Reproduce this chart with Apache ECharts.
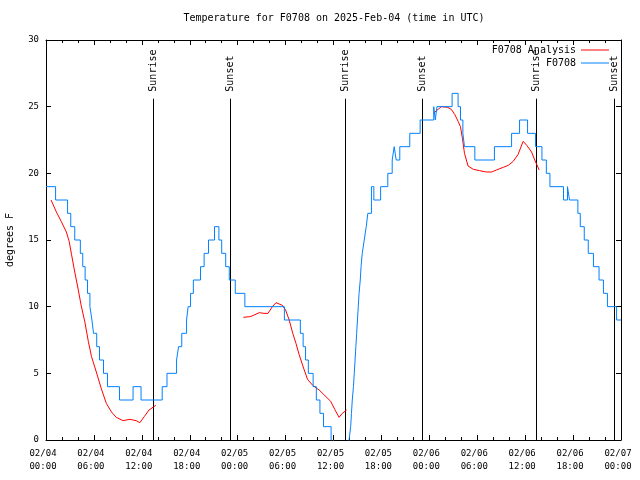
<!DOCTYPE html>
<html><head><meta charset="utf-8">
<script src="https://cdn.jsdelivr.net/npm/echarts@6/dist/echarts.min.js"></script>
<style>html,body{margin:0;padding:0;background:#fff}#c{width:640px;height:480px}</style>
</head><body><div id="c"></div>
<script>
// Tick labels for the time axis (hours since 2025-02-04 00:00 UTC, every 6 h)
const xTickLabels = ['02/04\n00:00','02/04\n06:00','02/04\n12:00','02/04\n18:00',
  '02/05\n00:00','02/05\n06:00','02/05\n12:00','02/05\n18:00',
  '02/06\n00:00','02/06\n06:00','02/06\n12:00','02/06\n18:00','02/07\n00:00'];

// Observed F0708 temperature (deg F): level starts at given hour
const blueHours = [0,1.2,2.7,3.1,3.6,4.3,4.6,4.9,5.2,5.5,5.75,5.95,6.35,6.7,7.2,7.7,9.2,10.9,11.9,
  14.55,15.15,16.35,16.6,17.0,17.6,17.8,18.1,18.45,19.35,19.8,20.35,21.1,21.65,22.0,22.5,22.95,23.7,24.9,
  29.85,31.85,32.2,32.5,32.85,33.45,33.85,34.3,34.75,35.7,35.9,36.2,37.6,37.95,
  38.15,38.25,38.35,38.5,38.6,38.7,38.8,38.9,39.0,39.1,39.2,39.35,39.45,39.6,39.85,40.1,40.3,40.75,41.05,
  41.9,42.8,43.35,43.6,43.85,44.3,45.55,46.85,48.55,48.75,48.95,50.85,51.6,51.9,52.2,52.4,53.7,56.15,
  58.3,59.3,60.3,61.3,62.1,62.65,63.1,64.8,65.3,65.55,66.6,66.9,67.4,67.9,68.55,69.25,69.8,70.3,71.45,72];
const blueTemps = [19,18,17,16,15,14,13,12,11,10,9,8,7,6,5,4,3,4,3,
  4,5,6,7,8,9,10,11,12,13,14,15,16,15,14,13,12,11,10,
  9,8,7,6,5,4,3,2,1,0,-1,-2,-1,0,
  1,2,3,4,5,6,7,8,9,10,11,12,13,14,15,16,17,19,18,
  19,20,21,22,21,22,23,24,25,24,25,26,25,24,23,22,21,22,
  23,24,23,22,21,20,19,18,19,18,17,16,15,14,13,12,11,10,9,9];

// F0708 Analysis (deg F), null = gap
const redHours = [0.63,1.3,1.9,2.55,2.9,3.2,3.6,4.0,4.4,4.85,5.3,5.7,6.3,6.9,7.55,8.2,8.8,9.65,10.5,11.3,11.75,12.3,12.9,13.75,
  18,
  24.7,25.5,25.8,26.7,27.3,27.8,28.35,28.8,29.6,30.0,30.45,30.9,31.3,31.7,32.25,32.75,33.4,34.2,34.8,35.65,36.15,36.7,37.1,37.65,
  42,
  48.5,49.1,49.5,50.3,50.75,51.2,51.6,51.9,52.15,52.4,52.85,53.5,54.3,55.15,55.8,56.4,57.25,57.9,58.5,59.1,59.75,60.2,60.8,61.2,61.75];
const redTemps = [18.0,17.1,16.4,15.6,14.9,13.9,12.6,11.4,10.1,8.9,7.4,6.25,5.1,3.9,2.75,2.1,1.7,1.45,1.55,1.45,1.3,1.75,2.25,2.6,
  null,
  9.2,9.25,9.3,9.55,9.5,9.5,10.0,10.3,10.1,9.75,9.0,8.0,7.25,6.4,5.4,4.55,4.1,3.75,3.4,2.9,2.3,1.7,2.0,2.25,
  null,
  24.5,24.8,25.0,24.95,24.8,24.4,23.9,23.5,22.6,21.5,20.55,20.3,20.2,20.1,20.1,20.25,20.45,20.6,20.9,21.4,22.4,22.1,21.6,21.0,20.25];

// Sunrise / sunset markers (hours)
const eventHours = [13.38,23.03,37.44,47.09,61.38,71.15];
const eventLabels = ['Sunrise','Sunset','Sunrise','Sunset','Sunrise','Sunset'];
const eventLineTop = 25.6;

const FONT = '"DejaVu Sans Mono", monospace';
const chart = echarts.init(document.getElementById('c'), null, {renderer:'canvas'});
const blueData = blueHours.map((h,i)=>[h, blueTemps[i]]);
const redData = redHours.map((h,i)=>[h, redTemps[i]===null ? '-' : redTemps[i]]);
const eventData = eventHours.map(h=>[h,0]);

const axisLineStyle = {color:'#000', width:1};
function xAxisCfg(pos, showLabel){
  return {type:'value', min:0, max:72, interval:6, position:pos,
    axisLine:{show:true, onZero:false, lineStyle:axisLineStyle},
    axisTick:{show:true, inside:true, length:5, lineStyle:axisLineStyle},
    minorTick:{show:true, splitNumber:3, length:3, lineStyle:axisLineStyle},
    splitLine:{show:false}, minorSplitLine:{show:false},
    axisLabel:{show:showLabel, formatter:v=>xTickLabels[Math.round(v/6)], fontFamily:FONT, fontSize:9,
      color:'#000', lineHeight:13, margin:7, padding:[0,6,0,0]}};
}
function yAxisCfg(pos, showLabel){
  const c = {type:'value', min:0, max:30, interval:5, position:pos,
    axisLine:{show:true, onZero:false, lineStyle:axisLineStyle},
    axisTick:{show:true, inside:true, length:5, lineStyle:axisLineStyle},
    splitLine:{show:false},
    axisLabel:{show:showLabel, fontFamily:FONT, fontSize:9, color:'#000', margin:7}};
  if (showLabel) {
    c.name = 'degrees F'; c.nameLocation = 'middle'; c.nameGap = 31; c.nameRotate = 90;
    c.nameTextStyle = {fontFamily:FONT, fontSize:10, color:'#000'};
  }
  return c;
}

chart.setOption({
  animation:false,
  backgroundColor:'#fff',
  title:{text:'Temperature for F0708 on 2025-Feb-04 (time in UTC)', left:334, top:13, padding:0, textAlign:'center',
    textStyle:{fontFamily:FONT, fontSize:10, fontWeight:'normal', color:'#000'}},
  legend:{orient:'vertical', right:31, top:44, align:'right', itemWidth:28, itemHeight:1, itemGap:1, padding:0,
    icon:'rect', textStyle:{fontFamily:FONT, fontSize:10, color:'#000', lineHeight:12},
    data:['F0708 Analysis','F0708']},
  grid:{left:46, top:40, width:575, height:400, containLabel:false, outerBoundsMode:'none'},
  xAxis:[xAxisCfg('bottom', true), xAxisCfg('top', false)],
  yAxis:[yAxisCfg('left', true), yAxisCfg('right', false)],
  series:[
    {type:'custom', xAxisIndex:0, yAxisIndex:0, data:eventData, clip:false, silent:true, z:1,
      renderItem:function(params, api){
        const h = api.value(0);
        const top = api.coord([h, eventLineTop]);
        const bot = api.coord([h, 0]);
        const x = Math.round(top[0]) + 0.5;
        return {type:'group', children:[
          {type:'line', shape:{x1:x, y1:top[1], x2:x, y2:bot[1]}, style:{stroke:'#000', lineWidth:1}},
          {type:'text', x:x, y:top[1]-7, rotation:Math.PI/2,
            style:{text:eventLabels[params.dataIndex], font:'10px ' + FONT, fill:'#000',
              align:'left', verticalAlign:'middle', textAlign:'left', textVerticalAlign:'middle'}}
        ]};
      }},
    {name:'F0708 Analysis', type:'line', xAxisIndex:0, yAxisIndex:0, data:redData, symbol:'none', showSymbol:false,
      connectNulls:false, lineStyle:{color:'#ff0000', width:1}, itemStyle:{color:'#ff0000'}, z:2},
    {name:'F0708', type:'line', xAxisIndex:0, yAxisIndex:0, data:blueData, step:'end', symbol:'none', showSymbol:false,
      lineStyle:{color:'#0080ff', width:1}, itemStyle:{color:'#0080ff'}, z:3}
  ]
});
</script></body></html>
